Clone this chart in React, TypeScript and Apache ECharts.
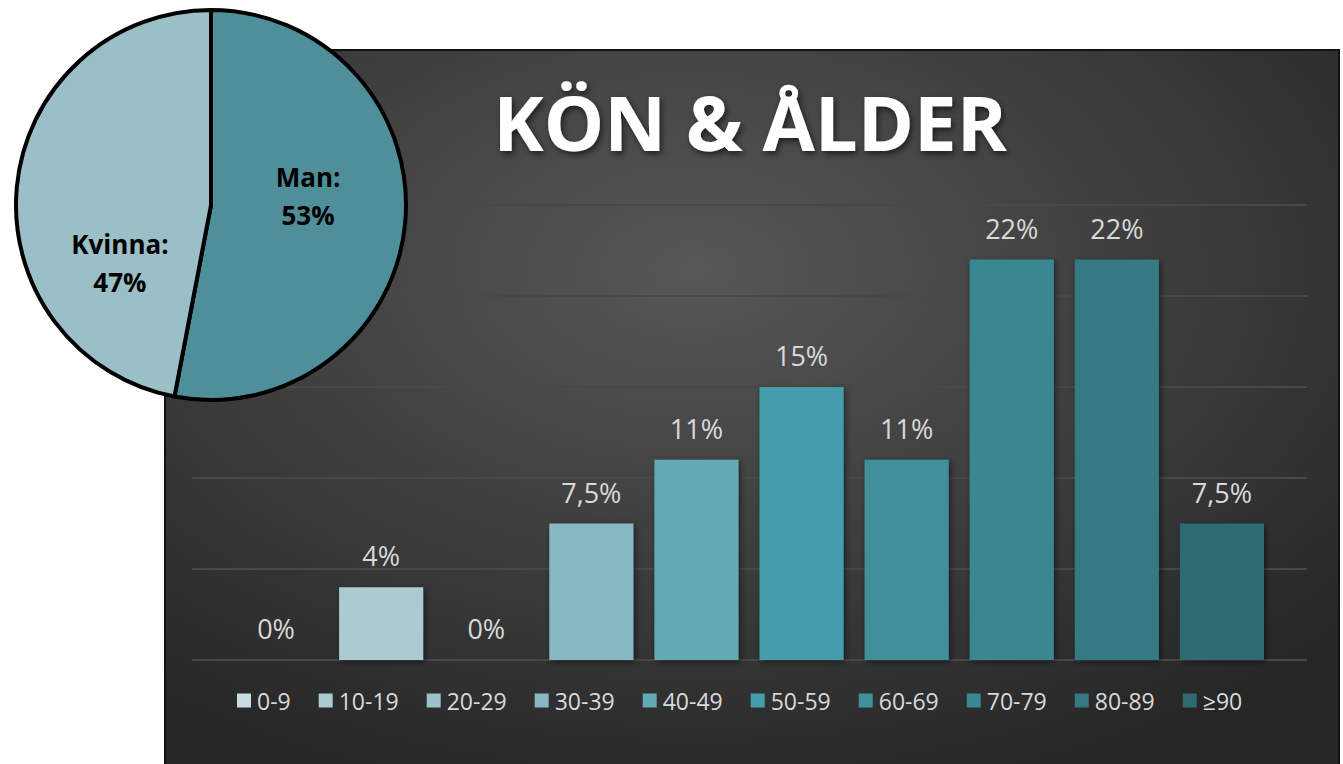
import React, { useEffect, useRef } from "react";
import * as echarts from "echarts";

const categories = ["0-9", "10-19", "20-29", "30-39", "40-49", "50-59", "60-69", "70-79", "80-89", "≥90"];
const values = [0, 4, 0, 7.5, 11, 15, 11, 22, 22, 7.5];
const barColors = ["#c7dde2", "#accbd1", "#9cc3ca", "#88b8c1", "#64a9b6", "#459dab", "#40909c", "#3b8791", "#357983", "#2e6a72"];
const genderNames = ["Man", "Kvinna"];
const genderValues = [53, 47];
const genderColors = ["#4f8f99", "#9abfc6"];
const yTicks = [0, 5, 10, 15, 20, 25];

const fmt = (v: number) => String(v).replace(".", ",") + "%";

export default function App() {
  const ref = useRef<HTMLDivElement>(null);
  useEffect(() => {
    if (!ref.current) return;
    const chart = echarts.init(ref.current, null, { renderer: "svg" });
    const barSeries = categories.map((c, i) => ({
      name: c,
      type: "bar",
      xAxisIndex: 1,
      yAxisIndex: 1,
      barWidth: "80%",
      barGap: "-100%",
      data: values.map((v, j) => (j === i ? v : "-")),
      itemStyle: {
        color: barColors[i],
        shadowBlur: 6,
        shadowColor: "rgba(0,0,0,0.5)",
        shadowOffsetX: 2,
        shadowOffsetY: 2,
      },
      label: {
        show: true,
        position: "top",
        distance: 18,
        color: "#d9d9d9",
        fontSize: 27,
        fontFamily: "Open Sans",
        formatter: (p: any) => fmt(p.value),
      },
      z: 3,
    }));
    chart.setOption({
      animation: false,
      title: {
        text: "KÖN & ÅLDER",
        left: 745,
        top: 78,
        textAlign: "center",
        textStyle: {
          color: "#ffffff",
          fontSize: 76,
          fontWeight: "bold",
          fontFamily: "Open Sans",
          textShadowColor: "rgba(0,0,0,0.6)",
          textShadowBlur: 6,
          textShadowOffsetX: 2,
          textShadowOffsetY: 3,
        },
      },
      graphic: [
        {
          type: "rect",
          z: -10,
          shape: { x: 165, y: 50, width: 1174, height: 730 },
          style: {
            fill: {
              type: "radial",
              x: 0.45,
              y: 0.3,
              r: 0.75,
              colorStops: [
                { offset: 0, color: "#575757" },
                { offset: 1, color: "#262626" },
              ],
            },
            stroke: "#111111",
            lineWidth: 2,
          },
        },
      ],
      legend: {
        left: 232,
        top: 684,
        itemWidth: 14,
        itemHeight: 14,
        itemGap: 28,
        icon: "rect",
        data: categories,
        textStyle: { color: "#d9d9d9", fontSize: 23, fontFamily: "Open Sans", padding: [0, 0, 0, 1] },
      },
      grid: [
        { left: 192, right: 36, top: 205, bottom: 104 },
        { left: 223.5, right: 68.5, top: 205, bottom: 104 },
      ],
      xAxis: [
        { gridIndex: 0, type: "value", min: 0, max: 1, show: false },
        {
          gridIndex: 1,
          type: "category",
          data: categories,
          axisLine: { show: false },
          axisTick: { show: false },
          axisLabel: { show: false },
        },
      ],
      yAxis: [
        {
          gridIndex: 0,
          type: "value",
          min: yTicks[0],
          max: yTicks[yTicks.length - 1],
          interval: 5,
          axisLabel: { show: false },
          axisLine: { show: false },
          axisTick: { show: false },
          splitLine: { lineStyle: { color: "#484848", width: 2 } },
        },
        {
          gridIndex: 1,
          type: "value",
          min: yTicks[0],
          max: yTicks[yTicks.length - 1],
          show: false,
          splitLine: { show: false },
        },
      ],
      series: [
        ...barSeries,
        {
          type: "pie",
          center: [211, 205],
          radius: 195,
          startAngle: 90,
          clockwise: true,
          z: 10,
          data: genderNames.map((n, i) => ({ name: n, value: genderValues[i], itemStyle: { color: genderColors[i] } })),
          itemStyle: { borderColor: "#000000", borderWidth: 4 },
          label: {
            show: true,
            position: "inside",
            color: "#000000",
            fontSize: 26,
            fontWeight: "bold",
            fontFamily: "Open Sans",
            lineHeight: 38,
            formatter: (p: any) => p.name + ":\n" + p.value + "%",
          },
          labelLayout: (p: any) => (p.dataIndex === 0 ? { dx: -3, dy: -18 } : { dx: 9, dy: 67 }),
          emphasis: { disabled: true },
        },
      ],
    });
    return () => chart.dispose();
  }, []);
  return <div ref={ref} style={{ position: "absolute", left: 0, top: 0, width: 1343, height: 764 }} />;
}
